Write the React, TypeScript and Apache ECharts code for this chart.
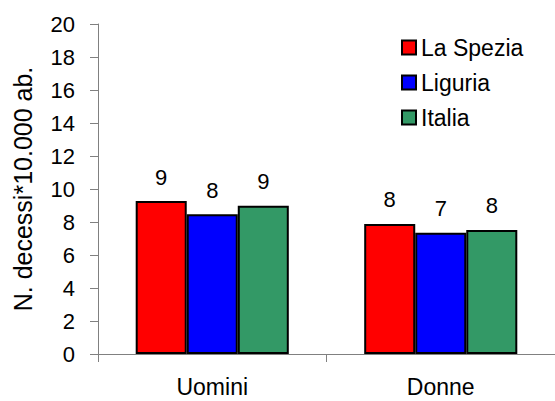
import React, { useEffect, useRef } from "react";
import * as echarts from "echarts";

// Mortality rate per 10,000 inhabitants, by sex and area
const categories = ["Uomini", "Donne"];
const seriesNames = ["La Spezia", "Liguria", "Italia"];
const laSpezia = [9.27, 7.88];
const liguria = [8.47, 7.35];
const italia = [8.99, 7.52];
const seriesColors = ["#FF0000", "#0000FF", "#339966"];
const yTicks = { min: 0, max: 20, interval: 2 };

const FONT = "'Liberation Sans', Arial, Helvetica, sans-serif";

export default function App() {
  const ref = useRef<HTMLDivElement>(null);

  useEffect(() => {
    if (!ref.current) return;
    const chart = echarts.init(ref.current, undefined, { renderer: "svg" });
    const values = [laSpezia, liguria, italia];

    chart.setOption({
      animation: false,
      backgroundColor: "#ffffff",
      textStyle: { fontFamily: FONT },
      grid: { left: 98, right: -3, top: 24, bottom: 47, containLabel: false },
      legend: {
        orient: "vertical",
        left: 396,
        top: 31,
        itemWidth: 14,
        itemHeight: 14,
        itemGap: 12,
        icon: "rect",
        itemStyle: { borderColor: "#000", borderWidth: 2 },
        textStyle: { fontSize: 23, color: "#000", fontFamily: FONT, lineHeight: 23 },
        data: seriesNames,
      },
      xAxis: {
        type: "category",
        data: categories,
        axisLine: { show: true, lineStyle: { color: "#808080", width: 1 } },
        axisTick: { show: true, alignWithLabel: false, length: 8, lineStyle: { color: "#808080" } },
        axisLabel: { fontSize: 23, color: "#000", margin: 21, fontFamily: FONT },
        splitLine: { show: false },
      },
      yAxis: {
        type: "value",
        min: yTicks.min,
        max: yTicks.max,
        interval: yTicks.interval,
        name: "N. decessi*10.000 ab.",
        nameLocation: "middle",
        nameGap: 63,
        nameRotate: 90,
        nameTextStyle: { fontSize: 25, color: "#000", fontFamily: FONT },
        axisLine: { show: true, lineStyle: { color: "#808080", width: 1 } },
        axisTick: { show: true, length: 8, lineStyle: { color: "#808080" } },
        axisLabel: { fontSize: 22, color: "#000", margin: 23, fontFamily: FONT },
        splitLine: { show: false },
      },
      series: seriesNames.map((name, i) => ({
        name,
        type: "bar",
        data: values[i],
        barGap: "0%",
        barCategoryGap: "33%",
        itemStyle: { color: seriesColors[i], borderColor: "#000", borderWidth: 2 },
        label: {
          show: true,
          position: "top",
          distance: 13,
          fontSize: 22,
          color: "#000",
          fontFamily: FONT,
          formatter: (p: any) => Math.round(p.value).toString(),
        },
      })),
    });

    return () => chart.dispose();
  }, []);

  return (
    <div
      ref={ref}
      style={{ position: "fixed", left: 0, top: 0, width: 555, height: 401, background: "#fff" }}
    />
  );
}
